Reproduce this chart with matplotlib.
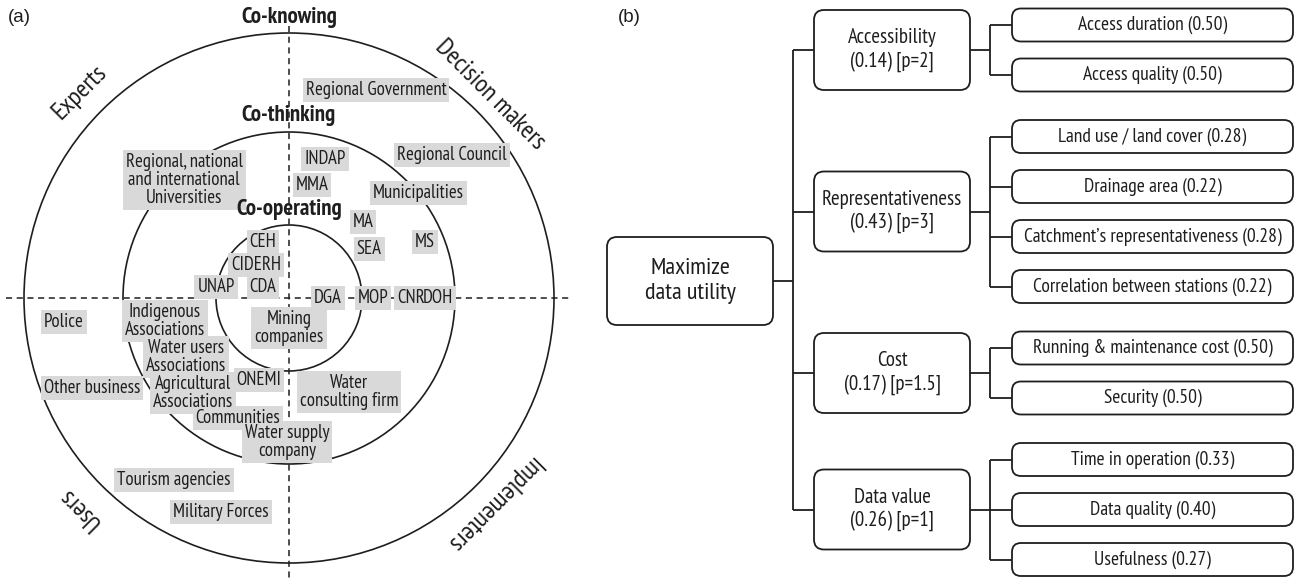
import matplotlib
matplotlib.use("Agg")
import matplotlib.pyplot as plt
from matplotlib import font_manager
from matplotlib.patches import Circle, FancyBboxPatch

names = {f.name for f in font_manager.fontManager.ttflist}
NARROW = next((n for n in ["PT Sans Narrow", "Roboto Condensed", "Fira Sans Condensed",
                           "Liberation Sans Narrow", "Open Sans Condensed"] if n in names),
              "Liberation Sans")
SCALE = 1.0 if NARROW != "Liberation Sans" else 0.82
plt.rcParams["font.family"] = [NARROW, "DejaVu Sans"]
INK = "#1e1e1e"; BOXG = "#d9d9d9"

# ---- panel (a): stakeholders ----
rings = ["Co-operating", "Co-thinking", "Co-knowing"]
quadrants = ["Decision makers", "Experts", "Users", "Implementers"]
actors = ["Regional Government", "Regional, national\nand international\nUniversities",
          "INDAP", "MMA", "Regional Council", "Municipalities", "MA", "SEA", "MS",
          "CEH", "CIDERH", "UNAP", "CDA", "DGA", "MOP", "CNR", "DOH",
          "Police", "Indigenous\nAssociations", "Mining\ncompanies",
          "Water users\nAssociations", "ONEMI", "Other business",
          "Agricultural\nAssociations", "Water\nconsulting firm", "Communities",
          "Water supply\ncompany", "Tourism agencies", "Military Forces"]
# label centres, pixels
actor_pos = [(376, 90), (184, 180), (325, 159), (312, 185), (452, 155), (418, 193),
             (363, 222), (369, 249), (425, 242), (263, 242), (256, 265), (216, 287),
             (263, 287), (328, 298), (373, 298), (411, 298), (438, 298), (64, 322),
             (165, 321), (289, 328), (186, 357), (259, 380), (92, 388), (193, 393),
             (349, 392), (238, 418), (287, 442), (174, 480), (221, 512)]

# ---- panel (b): objective tree ----
root = "Maximize\ndata utility"
criteria = ["Accessibility", "Representativeness", "Cost", "Data value"]
crit_w = [0.14, 0.43, 0.17, 0.26]
crit_p = ["2", "3", "1.5", "1"]
subs = [["Access duration", "Access quality"],
        ["Land use / land cover", "Drainage area",
         "Catchment\u2019s representativeness", "Correlation between stations"],
        ["Running & maintenance cost", "Security"],
        ["Time in operation", "Data quality", "Usefulness"]]
sub_w = [[0.50, 0.50], [0.28, 0.22, 0.28, 0.22], [0.50, 0.50], [0.33, 0.40, 0.27]]

fig = plt.figure(figsize=(12.96, 5.78), dpi=100)
ax = fig.add_axes([0, 0, 1, 1])
ax.set_xlim(0, 1296); ax.set_ylim(578, 0); ax.axis("off")

# rings + dashed axes
CX, CY = 289, 298
radii = [73, 166, 265]
for r in radii:
    ax.add_patch(Circle((CX, CY), r, fill=False, ec=INK, lw=1.2, zorder=1))
ax.plot([CX, CX], [26, 578], ls=(0, (4, 3)), color=INK, lw=1.1, zorder=1)
ax.plot([6, 572], [CY, CY], ls=(0, (4, 3)), color=INK, lw=1.1, zorder=1)

head_y = [210, 116, 17]
for name, y in zip(rings, head_y):
    ax.text(CX, y, name, ha="center", va="center", fontsize=16.5 * SCALE,
            fontweight="bold", color=INK, zorder=6)

quad_pos = [(490, 95), (80, 92), (80, 508), (493, 504)]
quad_rot = [-45, 45, 135, 225]
for name, (x, y), rot in zip(quadrants, quad_pos, quad_rot):
    ax.text(x, y, name, ha="center", va="center", fontsize=18.5 * SCALE, rotation=rot,
            rotation_mode="anchor", color=INK, zorder=2)

# grey boxes first, then every label on top of all boxes
for name, (x, y) in zip(actors, actor_pos):
    kw = dict(ha="center", va="center", fontsize=13.5 * SCALE, linespacing=0.98)
    ax.text(x, y, name, color="none", zorder=3,
            bbox=dict(boxstyle="square,pad=0.16", fc=BOXG, ec="none"), **kw)
    ax.text(x, y, name, color=INK, zorder=5, **kw)

ax.text(8, 17, "(a)", ha="left", va="center", fontsize=13.5, color=INK,
        family="Liberation Sans")
ax.text(618, 17, "(b)", ha="left", va="center", fontsize=13.5, color=INK,
        family="Liberation Sans")

def rbox(x0, yc, w, h, text, fs, rs, ls=1.25):
    ax.add_patch(FancyBboxPatch((x0, yc - h / 2), w, h,
                 boxstyle=f"round,pad=0,rounding_size={rs}",
                 fc="white", ec=INK, lw=1.3, zorder=3))
    ax.text(x0 + w / 2, yc, text, ha="center", va="center", fontsize=fs * SCALE,
            color=INK, linespacing=ls, zorder=4)

def seg(xs, ys):
    ax.plot(xs, ys, color=INK, lw=1.3, zorder=2, solid_capstyle="butt")

# tree layout
RX, RW, RH = 607, 166, 88
TX = 793
L1X, L1W, L1H = 814, 156, 80
BX = 990
L2X, L2W, L2H = 1012, 281, 33
step, gap = 50, 11.5

y = 25
sub_y = []
for grp in subs:
    ys = []
    for _ in grp:
        ys.append(y); y += step
    sub_y.append(ys); y += gap
crit_y = [(ys[0] + ys[-1]) / 2 for ys in sub_y]
root_y = 281

rbox(RX, root_y, RW, RH, root, 17.5, 10, 1.3)
seg([RX + RW, TX], [root_y, root_y])
seg([TX, TX], [crit_y[0], crit_y[-1]])
for c, w, p, cy, grp, gw, ys in zip(criteria, crit_w, crit_p, crit_y, subs, sub_w, sub_y):
    seg([TX, L1X], [cy, cy])
    rbox(L1X, cy, L1W, L1H, f"{c}\n({w:.2f}) [p={p}]", 15, 10, 1.25)
    seg([L1X + L1W, BX], [cy, cy])
    seg([BX, BX], [ys[0], ys[-1]])
    for s, sw, sy in zip(grp, gw, ys):
        seg([BX, L2X], [sy, sy])
        rbox(L2X, sy, L2W, L2H, f"{s} ({sw:.2f})", 14, 9)

fig.savefig("out.png", dpi=100)
